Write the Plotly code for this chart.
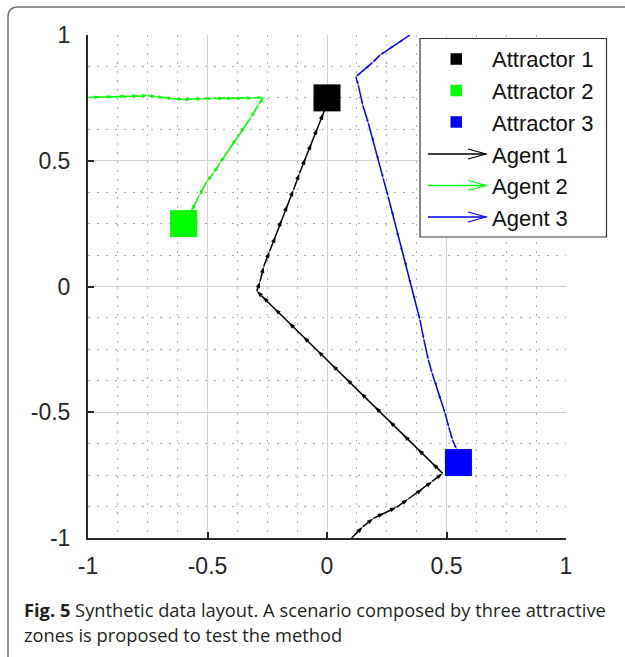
import plotly.graph_objects as go

# ---------------- data ----------------
attractor_names = ["Attractor 1", "Attractor 2", "Attractor 3"]
attractor_x = [0.0, -0.60, 0.55]
attractor_y = [0.75, 0.25, -0.70]

agent_names = ["Agent 1", "Agent 2", "Agent 3"]

agent1_x = [0.103, 0.15, 0.194, 0.24, 0.291, 0.34, 0.40, 0.44, 0.484,
            0.44, 0.38, 0.32, 0.26, 0.20, 0.14, 0.08, 0.02, -0.04, -0.10, -0.16, -0.22, -0.27, -0.294,
            -0.28, -0.265, -0.24, -0.215, -0.19, -0.165, -0.14, -0.115, -0.09, -0.065, -0.04, -0.015, 0.0]
agent1_y = [-1.0, -0.955, -0.922, -0.90, -0.878, -0.845, -0.805, -0.775, -0.743,
            -0.702, -0.646, -0.590, -0.534, -0.478, -0.422, -0.366, -0.311, -0.255, -0.199, -0.143, -0.087, -0.04, -0.018,
            0.02, 0.08, 0.14, 0.20, 0.265, 0.325, 0.385, 0.45, 0.51, 0.57, 0.63, 0.69, 0.725]

agent2_x = [-1.0, -0.95, -0.895, -0.84, -0.79, -0.75, -0.713, -0.68, -0.643, -0.60, -0.567, -0.52,
            -0.476, -0.43, -0.393, -0.35, -0.31, -0.266,
            -0.287, -0.32, -0.364, -0.40, -0.448, -0.475, -0.503, -0.535, -0.566, -0.58]
agent2_y = [0.751, 0.753, 0.755, 0.757, 0.759, 0.758, 0.755, 0.750, 0.747, 0.744, 0.744, 0.747,
            0.748, 0.748, 0.748, 0.749, 0.750, 0.751,
            0.722, 0.67, 0.609, 0.56, 0.49, 0.45, 0.417, 0.36, 0.301, 0.28]

agent3_x = [0.347, 0.30, 0.26, 0.222, 0.19, 0.16, 0.121, 0.131, 0.15, 0.173, 0.195, 0.215, 0.235,
            0.256, 0.277, 0.298, 0.315, 0.333, 0.35, 0.368, 0.389, 0.405, 0.424, 0.44, 0.459,
            0.475, 0.494, 0.51, 0.525, 0.542, 0.55]
agent3_y = [1.0, 0.97, 0.945, 0.92, 0.89, 0.865, 0.834, 0.80, 0.72, 0.649, 0.575, 0.503, 0.43,
            0.357, 0.28, 0.198, 0.14, 0.079, 0.01, -0.054, -0.133, -0.21, -0.292, -0.345, -0.398,
            -0.45, -0.504, -0.56, -0.61, -0.646, -0.67]

tick_vals = [-1, -0.5, 0, 0.5, 1]
tick_text = ["-1", "-0.5", "0", "0.5", "1"]

caption_bold = "Fig. 5"
caption_line1 = "Synthetic data layout. A scenario composed by three attractive"
caption_line2 = "zones is proposed to test the method"

colors = ["#000000", "#00ff00", "#0000ff"]

# ---------------- layout geometry (pixels) ----------------
W, H = 625, 657
L, R, T, B = 88, 566, 35, 538


def px(x):
    return (x - L) / (R - L)


def py(y):
    return (B - y) / (B - T)


fig = go.Figure()

agents = [(agent1_x, agent1_y, 7), (agent2_x, agent2_y, 6), (agent3_x, agent3_y, 4)]
for (ax_, ay_, msz), c, name in zip(agents, colors, agent_names):
    fig.add_trace(go.Scatter(
        x=ax_, y=ay_, mode="lines+markers", name=name, showlegend=False,
        line=dict(color=c, width=1.5),
        marker=dict(symbol="arrow", angleref="previous", size=msz, color=c,
                    line=dict(width=0)),
        hoverinfo="skip"))

for x, y, c, name in zip(attractor_x, attractor_y, colors, attractor_names):
    fig.add_trace(go.Scatter(
        x=[x], y=[y], mode="markers", name=name, showlegend=False,
        marker=dict(symbol="square", size=27, color=c, line=dict(width=0))))

axis_common = dict(
    range=[-1, 1], tickvals=tick_vals, ticktext=tick_text,
    ticks="inside", ticklen=6, tickwidth=1.5, tickcolor="#262626",
    showline=True, linewidth=2, linecolor="#262626",
    showgrid=True, gridcolor="#d2d2d2", gridwidth=1,
    zeroline=False, fixedrange=True,
    tickfont=dict(family="Liberation Sans", size=23, color="#262626"),
    minor=dict(dtick=0.125, showgrid=True, gridcolor="#b0b0b0", gridwidth=1,
               griddash="2px,7px", ticks=""),
)

fig.update_layout(
    width=W, height=H,
    margin=dict(l=L, r=W - R, t=T, b=H - B, pad=0),
    paper_bgcolor="white", plot_bgcolor="white",
    xaxis=dict(**axis_common, ticklabelstandoff=6),
    yaxis=dict(**axis_common, ticklabelstandoff=11),
    showlegend=False,
)

shapes = []
annotations = []

# outer frame (rounded top-left corner)
shapes.append(dict(
    type="path", xref="paper", yref="paper",
    path=f"M {px(8)},{py(680)} L {px(8)},{py(17)} Q {px(8)},{py(7)} {px(18)},{py(7)} L {px(640)},{py(7)}",
    line=dict(color="#707070", width=1.5)))

# legend box
shapes.append(dict(type="rect", xref="paper", yref="paper",
                   x0=px(420), x1=px(606.5), y0=py(237), y1=py(38.5),
                   line=dict(color="#333333", width=1.2), fillcolor="white"))

row_y = [59, 90.5, 122, 154, 185.5, 217]
for i in range(3):
    cy = row_y[i]
    shapes.append(dict(type="rect", xref="paper", yref="paper",
                       x0=px(450.5), x1=px(462), y0=py(cy + 5.75), y1=py(cy - 5.75),
                       line=dict(width=0), fillcolor=colors[i]))
for i in range(3):
    cy = row_y[3 + i]
    shapes.append(dict(type="line", xref="paper", yref="paper",
                       x0=px(428), x1=px(486), y0=py(cy), y1=py(cy),
                       line=dict(color=colors[i], width=1.5)))
    shapes.append(dict(type="path", xref="paper", yref="paper",
                       path=f"M {px(468)},{py(cy - 5)} L {px(486)},{py(cy)} L {px(468)},{py(cy + 5)}",
                       line=dict(color=colors[i], width=1.2)))

legend_labels = attractor_names + agent_names
for lab, cy in zip(legend_labels, row_y):
    annotations.append(dict(
        text=lab, xref="paper", yref="paper", x=px(490), y=py(cy + 1),
        xanchor="left", yanchor="middle", showarrow=False,
        font=dict(family="Liberation Sans", size=22, color="#111111")))

# caption
annotations.append(dict(
    text=f"<b>{caption_bold}</b> {caption_line1}", xref="paper", yref="paper",
    x=px(22), y=py(609), xanchor="left", yanchor="middle", showarrow=False,
    font=dict(family="Open Sans", size=18.3, color="#231f20")))
annotations.append(dict(
    text=caption_line2, xref="paper", yref="paper",
    x=px(22), y=py(634), xanchor="left", yanchor="middle", showarrow=False,
    font=dict(family="Open Sans", size=18.3, color="#231f20")))

fig.update_layout(shapes=shapes, annotations=annotations)

fig.write_html("out.html")
